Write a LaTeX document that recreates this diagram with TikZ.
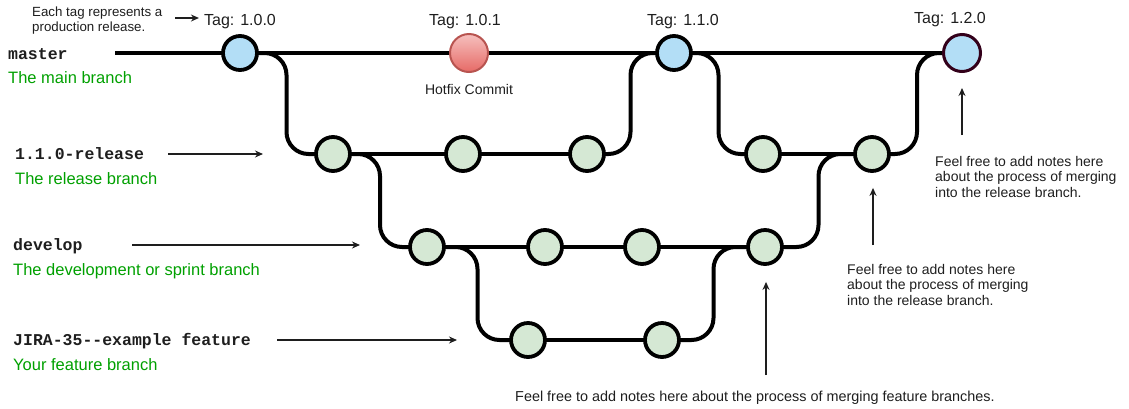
\documentclass[tikz,border=0pt]{standalone}
\usepackage{fontspec}
\setmainfont{Liberation Sans}
\setmonofont{Liberation Mono}
\usetikzlibrary{arrows.meta,calc,backgrounds}
\definecolor{tagblue}{RGB}{179,222,246}
\definecolor{commitgreen}{HTML}{D5E8D4}
\definecolor{hotfixtop}{HTML}{F6C0BE}
\definecolor{hotfixbot}{HTML}{E66A66}
\definecolor{hotfixline}{HTML}{B85450}
\definecolor{tagrim}{HTML}{33001A}
\definecolor{labelgreen}{RGB}{0,160,0}
\definecolor{notegray}{HTML}{1E1E1E}

\begin{document}
\begin{tikzpicture}[x=1pt,y=-1pt,
  commit/.style={circle,draw=black,line width=3.8pt,fill=commitgreen,minimum size=34pt,inner sep=0pt},
  tagged/.style={commit,fill=tagblue},
  hotfix/.style={circle,draw=hotfixline,line width=2pt,top color=hotfixtop,bottom color=hotfixbot,minimum size=38pt,inner sep=0pt},
  branch/.style={line width=4pt,black},
  merge/.style={branch,rounded corners=22pt},
  pointer/.style={line width=1.2pt,notegray,-{Stealth[length=8pt,width=7pt]}},
  tagtext/.style={font=\fontsize{16}{19}\selectfont,text=notegray,inner sep=0pt,anchor=base},
  note/.style={font=\fontsize{14}{15.5}\selectfont,text=notegray,inner sep=0pt,align=left,anchor=north west},
  branchname/.style={font=\fontsize{16.5}{19}\selectfont\ttfamily\bfseries,text=notegray,inner sep=0pt,anchor=base west},
  branchinfo/.style={font=\fontsize{16.5}{19}\selectfont,text=labelgreen,inner sep=0pt,anchor=base west}]
  \newcommand\mergeline[2]{
    \draw[merge] (#1.center) -| ($(#1)!0.5!(#2)$) |- (#2.center);}
  \useasboundingbox (0,0) rectangle (1129,408);

  % commits
  \node[tagged] (m1) at (240,53) {};
  \node[hotfix] (hf) at (469,53) {};
  \node[tagged] (m3) at (674,53) {};
  \node[tagged,draw=tagrim,line width=3pt,minimum size=37pt] (m4) at (962,53) {};
  \foreach \n/\x in {r1/333,r2/463,r3/587,r4/763,r5/872}
    \node[commit] (\n) at (\x,154) {};
  \foreach \n/\x in {d1/427,d2/545,d3/642,d4/765}
    \node[commit] (\n) at (\x,247) {};
  \foreach \n/\x in {f1/528,f2/662}
    \node[commit] (\n) at (\x,340) {};

  \begin{scope}[on background layer]
    \coordinate (mstart) at (115,53);
    \draw[branch] (mstart) -- (m4.center);
    \foreach \a/\b in {r1/r2,r2/r3,r4/r5,d1/d2,d2/d3,d3/d4,f1/f2}
      \draw[branch] (\a.center) -- (\b.center);
    \foreach \a/\b in {m1/r1,r1/d1,d1/f1,f2/d4,d4/r5,r3/m3,m3/r4,r5/m4}
      {\mergeline{\a}{\b}}
  \end{scope}

  % tags
  \node[tagtext] (tag1) at (240,25) {Tag: 1.0.0};
  \node[tagtext] (tag2) at (465,25) {Tag: 1.0.1};
  \node[tagtext] (tag3) at (683,25) {Tag: 1.1.0};
  \node[tagtext] (tag4) at (950,23) {Tag: 1.2.0};
  \node[tagtext,font=\fontsize{14}{16}\selectfont] (hflbl) at (469,94) {Hotfix Commit};
  \node[note,font=\fontsize{13.3}{15}\selectfont] (tagnote) at (32,6.5) {Each tag represents a\\production release.};
  \coordinate (tagptr) at (175,18);
  \draw[pointer,shorten >=5pt] (tagptr) -- (tagptr -| tag1.west);

  % branch names
  \node[branchname] (mastername) at (8,59) {master};
  \node[branchinfo] (masterinfo) at (8,83) {The main branch};
  \node[branchname] (relname) at (15,159) {1.1.0-release};
  \node[branchinfo] (relinfo) at (15,184) {The release branch};
  \node[branchname] (devname) at (13,250) {develop};
  \node[branchinfo] (devinfo) at (13,275) {The development or sprint branch};
  \node[branchname] (featname) at (13,345) {JIRA-35--example feature};
  \node[branchinfo] (featinfo) at (13,370) {Your feature branch};
  \coordinate (relfrom) at (168,154);
  \coordinate (relto) at (263,154);
  \coordinate (devfrom) at (132,245);
  \coordinate (devto) at (360,245);
  \coordinate (featfrom) at (277,340);
  \coordinate (featto) at (457,340);
  \draw[pointer] (relfrom) -- (relto);
  \draw[pointer] (devfrom) -- (devto);
  \draw[pointer] (featfrom) -- (featto);

  % notes
  \node[note,anchor=base west,font=\fontsize{14.4}{16}\selectfont] (featnote) at (515,401) {Feel free to add notes here about the process of merging feature branches.};
  \node[note] (devnote) at (847,263.8) {Feel free to add notes here\\about the process of merging\\into the release branch.};
  \node[note] (relnote) at (935,155.8) {Feel free to add notes here\\about the process of merging\\into the release branch.};
  \coordinate (featptr) at (766,375);
  \coordinate (devptr) at (873,245);
  \coordinate (relptr) at (962,135);
  \draw[pointer,shorten >=16pt] (featptr) -- (featptr |- d4.south);
  \draw[pointer,shorten >=15pt] (devptr) -- (devptr |- r5.south);
  \draw[pointer,shorten >=15pt] (relptr) -- (relptr |- m4.south);
\end{tikzpicture}
\end{document}
